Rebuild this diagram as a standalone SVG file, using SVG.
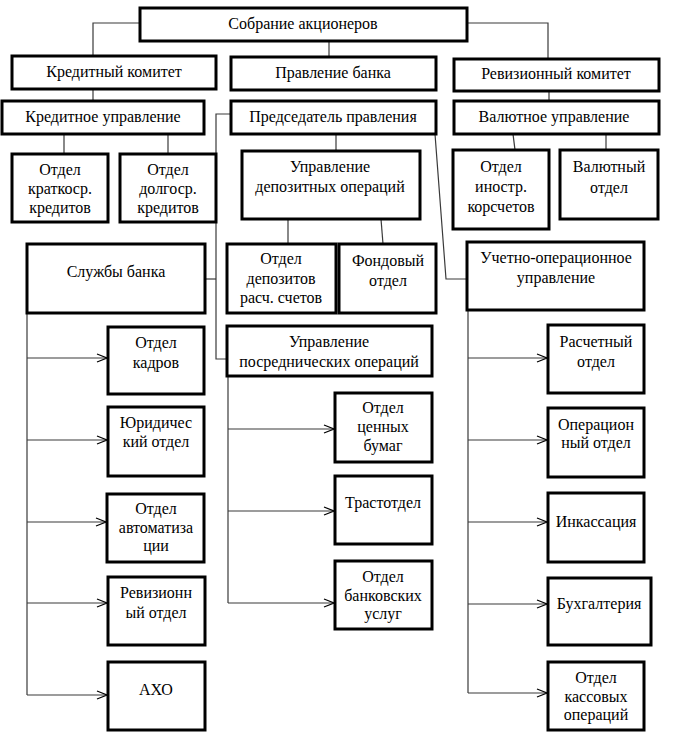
<svg xmlns="http://www.w3.org/2000/svg" width="676" height="740" viewBox="0 0 676 740">
<defs>
<style>
.b{fill:#fff;stroke:#000;stroke-width:3}
.t{font-family:"Liberation Serif","Times New Roman","DejaVu Serif",serif;font-size:16px;fill:#000;text-anchor:middle}
.c{fill:none;stroke:#3a3a3a;stroke-width:1.2}
</style>
<marker id="ar" markerUnits="userSpaceOnUse" markerWidth="14" markerHeight="12" refX="11" refY="5" orient="auto">
<path d="M1,1 L11,5 L1,9" fill="none" stroke="#000" stroke-width="1.3"/>
</marker>
</defs>
<rect width="676" height="740" fill="#fff"/>
<g id="connectors">
<polyline class="c" points="140,23 93,23 93,56"/>
<polyline class="c" points="467,23 548,23 548,59"/>
<line class="c" x1="329" y1="41" x2="329" y2="57"/>
<line class="c" x1="93" y1="89" x2="93" y2="101"/>
<line class="c" x1="549" y1="91" x2="549" y2="101"/>
<line class="c" x1="64" y1="134" x2="64" y2="154"/>
<line class="c" x1="168" y1="134" x2="168" y2="154"/>
<line class="c" x1="336" y1="134" x2="336" y2="151"/>
<line class="c" x1="513" y1="134" x2="515" y2="150"/>
<line class="c" x1="606" y1="134" x2="606" y2="150"/>
<line class="c" x1="288" y1="219" x2="288" y2="244"/>
<line class="c" x1="381" y1="219" x2="383" y2="244"/>
<polyline class="c" points="231,114 216,114 216,359 227,359"/>
<line class="c" x1="205" y1="279" x2="216" y2="279"/>
<polyline class="c" points="435,134 446,279 467,279"/>
<line class="c" x1="27" y1="313" x2="27" y2="695"/>
<line class="c" x1="27" y1="358" x2="107" y2="358" marker-end="url(#ar)"/>
<line class="c" x1="27" y1="440" x2="107" y2="440" marker-end="url(#ar)"/>
<line class="c" x1="27" y1="522" x2="106" y2="522" marker-end="url(#ar)"/>
<line class="c" x1="27" y1="603" x2="107" y2="603" marker-end="url(#ar)"/>
<line class="c" x1="27" y1="695" x2="107" y2="695" marker-end="url(#ar)"/>
<line class="c" x1="228" y1="376" x2="228" y2="603"/>
<line class="c" x1="228" y1="429" x2="334" y2="429" marker-end="url(#ar)"/>
<line class="c" x1="228" y1="511" x2="334" y2="511" marker-end="url(#ar)"/>
<line class="c" x1="228" y1="603" x2="334" y2="603" marker-end="url(#ar)"/>
<line class="c" x1="468" y1="310" x2="468" y2="693"/>
<line class="c" x1="468" y1="358" x2="547" y2="358" marker-end="url(#ar)"/>
<line class="c" x1="468" y1="440" x2="547" y2="440" marker-end="url(#ar)"/>
<line class="c" x1="468" y1="522" x2="547" y2="522" marker-end="url(#ar)"/>
<line class="c" x1="468" y1="604" x2="547" y2="604" marker-end="url(#ar)"/>
<line class="c" x1="468" y1="693" x2="547" y2="693" marker-end="url(#ar)"/>
</g>
<g id="n-sobranie"><rect class="b" x="140" y="8" width="327" height="33"/><text class="t" x="303" y="29">Собрание акционеров</text></g>
<g id="n-kredkom"><rect class="b" x="12" y="56" width="204" height="33"/><text class="t" x="114" y="77">Кредитный комитет</text></g>
<g id="n-pravlenie"><rect class="b" x="231" y="57" width="205" height="33"/><text class="t" x="333" y="78">Правление банка</text></g>
<g id="n-revkom"><rect class="b" x="454" y="59" width="205" height="32"/><text class="t" x="556" y="79">Ревизионный комитет</text></g>
<g id="n-kredupr"><rect class="b" x="2" y="101" width="202" height="33"/><text class="t" x="103" y="122">Кредитное управление</text></g>
<g id="n-predsed"><rect class="b" x="231" y="101" width="205" height="33"/><text class="t" x="333" y="122">Председатель правления</text></g>
<g id="n-valupr"><rect class="b" x="454" y="101" width="205" height="33"/><text class="t" x="554" y="122">Валютное управление</text></g>
<g id="n-kratk"><rect class="b" x="12" y="154" width="96" height="68"/><text class="t" x="60"><tspan x="60" y="175">Отдел</tspan><tspan x="60" y="194">краткоср.</tspan><tspan x="60" y="213">кредитов</tspan></text></g>
<g id="n-dolg"><rect class="b" x="120" y="154" width="96" height="68"/><text class="t" x="168"><tspan x="168" y="175">Отдел</tspan><tspan x="168" y="194">долгоср.</tspan><tspan x="168" y="213">кредитов</tspan></text></g>
<g id="n-depupr"><rect class="b" x="242" y="151" width="178" height="68"/><text class="t" x="330"><tspan x="330" y="172">Управление</tspan><tspan x="330" y="192">депозитных операций</tspan></text></g>
<g id="n-inostr"><rect class="b" x="453" y="150" width="96" height="79"/><text class="t" x="501"><tspan x="501" y="172">Отдел</tspan><tspan x="501" y="192">иностр.</tspan><tspan x="501" y="212">корсчетов</tspan></text></g>
<g id="n-valotd"><rect class="b" x="560" y="150" width="98" height="69"/><text class="t" x="609"><tspan x="609" y="172">Валютный</tspan><tspan x="609" y="193">отдел</tspan></text></g>
<g id="n-deprasch"><rect class="b" x="227" y="244" width="109" height="69"/><text class="t" x="281"><tspan x="281" y="264">Отдел</tspan><tspan x="281" y="284">депозитов</tspan><tspan x="281" y="303">расч. счетов</tspan></text></g>
<g id="n-fond"><rect class="b" x="339" y="244" width="97" height="69"/><text class="t" x="388"><tspan x="388" y="266">Фондовый</tspan><tspan x="388" y="286">отдел</tspan></text></g>
<g id="n-sluzhby"><rect class="b" x="27" y="244" width="178" height="69"/><text class="t" x="116" y="277">Службы банка</text></g>
<g id="n-uchet"><rect class="b" x="467" y="242" width="177" height="68"/><text class="t" x="556"><tspan x="556" y="263">Учетно-операционное</tspan><tspan x="556" y="283">управление</tspan></text></g>
<g id="n-posred"><rect class="b" x="227" y="326" width="205" height="50"/><text class="t" x="329"><tspan x="329" y="347">Управление</tspan><tspan x="329" y="367">посреднических операций</tspan></text></g>
<g id="n-kadry"><rect class="b" x="108" y="327" width="96" height="67"/><text class="t" x="156"><tspan x="156" y="348">Отдел</tspan><tspan x="156" y="368">кадров</tspan></text></g>
<g id="n-yur"><rect class="b" x="108" y="407" width="96" height="69"/><text class="t" x="156"><tspan x="156" y="428">Юридичес</tspan><tspan x="156" y="447">кий отдел</tspan></text></g>
<g id="n-avto"><rect class="b" x="107" y="494" width="97" height="68"/><text class="t" x="156"><tspan x="156" y="514">Отдел</tspan><tspan x="156" y="533">автоматиза</tspan><tspan x="156" y="551">ции</tspan></text></g>
<g id="n-revotd"><rect class="b" x="108" y="577" width="97" height="68"/><text class="t" x="156"><tspan x="156" y="598">Ревизионн</tspan><tspan x="156" y="618">ый отдел</tspan></text></g>
<g id="n-aho"><rect class="b" x="108" y="662" width="97" height="68"/><text class="t" x="156" y="695">АХО</text></g>
<g id="n-cb"><rect class="b" x="335" y="393" width="97" height="69"/><text class="t" x="383"><tspan x="383" y="413">Отдел</tspan><tspan x="383" y="432">ценных</tspan><tspan x="383" y="451">бумаг</tspan></text></g>
<g id="n-trast"><rect class="b" x="335" y="476" width="97" height="68"/><text class="t" x="383" y="508">Трастотдел</text></g>
<g id="n-bankusl"><rect class="b" x="335" y="561" width="97" height="68"/><text class="t" x="383"><tspan x="383" y="582">Отдел</tspan><tspan x="383" y="601">банковских</tspan><tspan x="383" y="619">услуг</tspan></text></g>
<g id="n-rasch"><rect class="b" x="548" y="325" width="96" height="68"/><text class="t" x="596"><tspan x="596" y="347">Расчетный</tspan><tspan x="596" y="367">отдел</tspan></text></g>
<g id="n-oper"><rect class="b" x="548" y="408" width="96" height="69"/><text class="t" x="596"><tspan x="596" y="430">Операцион</tspan><tspan x="596" y="448">ный отдел</tspan></text></g>
<g id="n-inkas"><rect class="b" x="548" y="493" width="96" height="69"/><text class="t" x="596" y="527">Инкассация</text></g>
<g id="n-buh"><rect class="b" x="548" y="578" width="103" height="67"/><text class="t" x="599" y="609">Бухгалтерия</text></g>
<g id="n-kass"><rect class="b" x="548" y="662" width="96" height="68"/><text class="t" x="596"><tspan x="596" y="683">Отдел</tspan><tspan x="596" y="702">кассовых</tspan><tspan x="596" y="720">операций</tspan></text></g>
</svg>
